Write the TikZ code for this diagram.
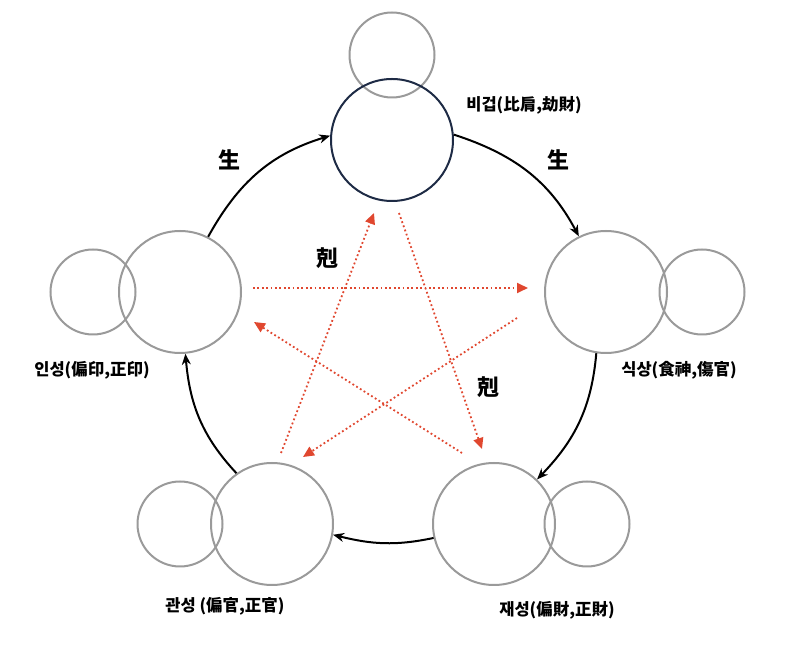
\documentclass[tikz,border=0pt]{standalone}
\usepackage{fontspec}
\setmainfont{Noto Sans CJK KR}
\usepackage{tikz}
\usetikzlibrary{arrows.meta}
\definecolor{ring}{HTML}{9A9A9A}
\definecolor{self}{HTML}{1E2B45}
\definecolor{geuk}{HTML}{E0472F}
\tikzset{small/.style={draw=ring,line width=2pt,circle,minimum size=85pt,inner sep=0pt}}
\tikzset{big/.style={draw=ring,line width=2pt,circle,minimum size=122pt,inner sep=0pt}}
\tikzset{bigself/.style={big,draw=self}}
\tikzset{lbl/.style={black,font=\fontsize{16.5}{19}\selectfont\bfseries}}
\tikzset{hanja/.style={black,font=\fontsize{22}{24}\selectfont\bfseries}}
\tikzset{saeng/.style={-{Stealth[length=11pt,width=9pt]},black,line width=2pt}}
\tikzset{geukline/.style={-{Triangle[length=11pt,width=10pt]},geuk,line width=1.8pt,dash pattern=on 1.8pt off 2.6pt}}

\begin{document}
\begin{tikzpicture}[x=1pt,y=1pt]
    \useasboundingbox (0,0) rectangle (785,648);

    \node[small] (bi2) at (392,593) {};
    \node[small] (in2) at (93,356) {};
    \node[small] (sik2) at (702,356) {};
    \node[small] (gwan2) at (180,124) {};
    \node[small] (jae2) at (587,124) {};

    \node[bigself] (bi) at (392,508) {};
    \node[big] (in) at (180,356) {};
    \node[big] (sik) at (606,356) {};
    \node[big] (gwan) at (272,124) {};
    \node[big] (jae) at (494,124) {};

    \node[lbl] (lbi) at (524,543) {비겁(比肩,劫財)};
    \node[lbl] (lsik) at (679,278) {식상(食神,傷官)};
    \node[lbl] (ljae) at (557,38) {재성(偏財,正財)};
    \node[lbl] (lgwan) at (225,42) {관성 (偏官,正官)};
    \node[lbl] (lin) at (92,278) {인성(偏印,正印)};

    \node[hanja] (s1) at (229,488) {生};
    \node[hanja] (s2) at (558,488) {生};
    \node[hanja] (g1) at (327,390) {剋};
    \node[hanja] (g2) at (488,261) {剋};

    \draw[saeng] (in.63) to[out=61,in=197] (bi.176);
    \draw[saeng] (bi.5) to[out=-18,in=118] (sik.116);
    \draw[saeng] (sik.-99) to[out=-95,in=46] (jae.46);
    \draw[saeng] (jae.193) to[out=192,in=-14] (gwan.-10);
    \draw[saeng] (gwan.125) to[out=133,in=-85] (in.-85);

    \coordinate (k1a) at (253,360);
    \coordinate (k1b) at (528,360);
    \coordinate (k2a) at (399,435);
    \coordinate (k2b) at (482,199);
    \coordinate (k3a) at (517,330);
    \coordinate (k3b) at (303,191);
    \coordinate (k4a) at (462,195);
    \coordinate (k4b) at (254,326);
    \coordinate (k5a) at (281,195);
    \coordinate (k5b) at (374,435);

    \draw[geukline] (k1a) -- (k1b);
    \draw[geukline] (k2a) -- (k2b);
    \draw[geukline] (k3a) -- (k3b);
    \draw[geukline] (k4a) -- (k4b);
    \draw[geukline] (k5a) -- (k5b);
\end{tikzpicture}
\end{document}
